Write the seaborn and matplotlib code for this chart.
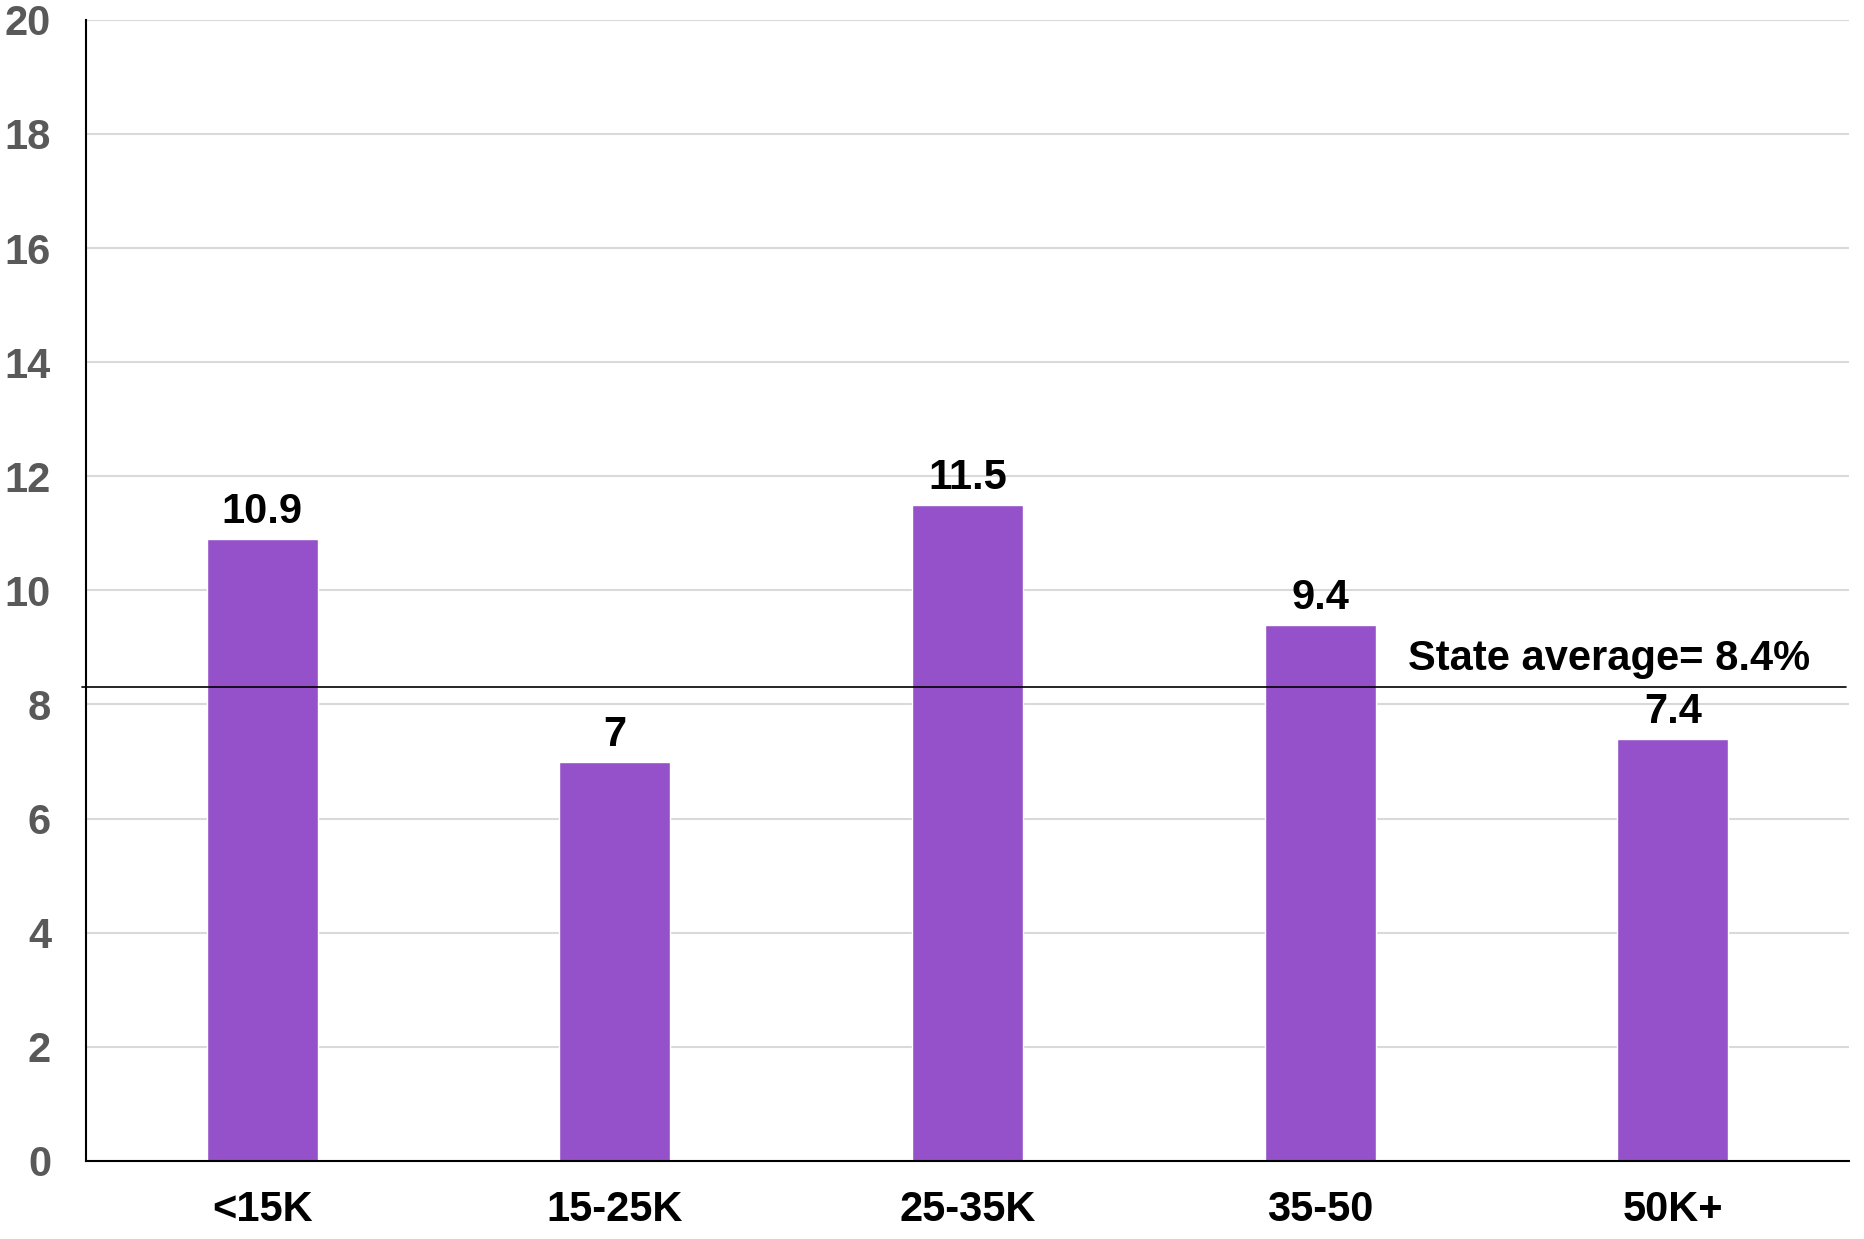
import matplotlib
matplotlib.use("Agg")
import pandas as pd
import seaborn as sns
import matplotlib.pyplot as plt

categories = ["<15K", "15-25K", "25-35K", "35-50", "50K+"]
values = [10.9, 7, 11.5, 9.4, 7.4]
value_labels = ["10.9", "7", "11.5", "9.4", "7.4"]
state_avg = 8.3
avg_text = "State average= 8.4%"
y_ticks = [0, 2, 4, 6, 8, 10, 12, 14, 16, 18, 20]

df = pd.DataFrame({"income": categories, "pct": values})

sns.set_style("white")
plt.rcParams["font.family"] = ["Liberation Sans", "DejaVu Sans"]
fs = 30

fig = plt.figure(figsize=(18.64, 12.39), dpi=100)
ax = fig.add_axes([0.046, 0.063, 0.946, 0.921])

sns.barplot(data=df, x="income", y="pct", color="#9551CA", saturation=1,
            width=0.315, ax=ax)

ax.set_ylim(0, 20)
ax.set_xlim(-0.5, 4.5)
ax.set_yticks(y_ticks)
ax.yaxis.grid(True, color="#d9d9d9", linewidth=1.5)
ax.set_axisbelow(True)

for s in ["top", "right"]:
    ax.spines[s].set_visible(False)
ax.spines["left"].set_color("black")
ax.spines["bottom"].set_color("black")
ax.spines["left"].set_linewidth(1.5)
ax.spines["bottom"].set_linewidth(1.5)

ax.tick_params(axis="y", length=0, pad=25, labelsize=fs, labelcolor="#595959")
ax.tick_params(axis="x", length=0, pad=21, labelsize=fs, labelcolor="black")
for t in ax.get_yticklabels() + ax.get_xticklabels():
    t.set_fontweight("bold")
ax.set_xlabel("")
ax.set_ylabel("")

ax.bar_label(ax.containers[0], labels=value_labels, padding=5,
             fontsize=fs, fontweight="bold", color="black")

ax.axhline(state_avg, color="black", linewidth=1.2, xmin=-0.002, xmax=0.998,
           clip_on=False)
ax.text(3.82, 8.6, avg_text, ha="center", va="baseline", fontsize=fs,
        fontweight="bold", color="black")

fig.savefig("out.png", dpi=100)
plt.close()
